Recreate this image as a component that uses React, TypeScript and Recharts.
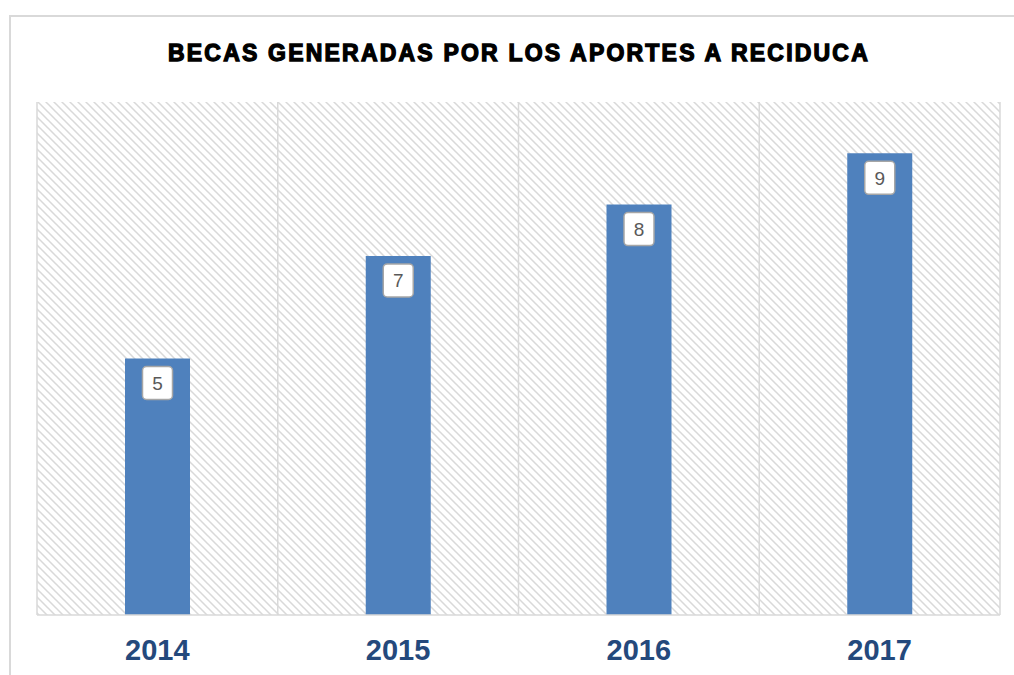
import React from "react";
import { BarChart, Bar, XAxis, YAxis, CartesianGrid, LabelList } from "recharts";

const years = ["2014", "2015", "2016", "2017"];
const becas = [5, 7, 8, 9];
const yTicks = [0, 2, 4, 6, 8, 10];
const title = "BECAS GENERADAS POR LOS APORTES A RECIDUCA";

const data = years.map((y, i) => ({ year: y, becas: becas[i] }));

const BoxLabel = (props: any) => {
  const { x, y, width, value } = props;
  const cx = x + width / 2;
  return (
    <g>
      <rect x={cx - 15} y={y + 8} width={30} height={33} rx={4} ry={4} fill="#ffffff" stroke="#A6A6A6" strokeWidth={1.5} />
      <text x={cx} y={y + 25} textAnchor="middle" dominantBaseline="central" fontFamily="Liberation Sans, Arial, sans-serif" fontSize={19} fill="#595959">
        {value}
      </text>
    </g>
  );
};

const YearTick = (props: any) => {
  const { x, y, payload } = props;
  return (
    <text x={x} y={y} dy={37} textAnchor="middle" fontFamily="Liberation Sans, Arial, sans-serif" fontWeight="bold" fontSize={29} fill="#24497C">
      {payload.value}
    </text>
  );
};

export default function App() {
  return (
    <div style={{ position: "absolute", left: 0, top: 0, width: 1014, height: 675, background: "#fff" }}>
      <div style={{ position: "absolute", left: 9, top: 15, width: 1010, height: 670, border: "2px solid #D9D9D9", boxSizing: "border-box" }} />
      <div
        style={{
          position: "absolute",
          left: 0,
          top: 39,
          width: 1038,
          textAlign: "center",
          fontFamily: "Liberation Sans, Arial, sans-serif",
          fontWeight: 900,
          fontSize: 23,
          letterSpacing: 2.2,
          color: "#000",
          WebkitTextStroke: "1.3px #000",
          lineHeight: "28px",
        }}
      >
        {title}
      </div>
      <div style={{ position: "absolute", left: 0, top: 0 }}>
        <BarChart width={1014} height={675} data={data} margin={{ top: 102, right: 14, left: 37, bottom: 0 }} barSize={65}>
          <defs>
            <pattern id="hatch" width="8" height="8" patternUnits="userSpaceOnUse">
              <rect width="8" height="8" fill="#ffffff" />
              <path d="M-1,-1 L9,9 M-1,7 L1,9 M7,-1 L9,1" stroke="#D9D9D9" strokeWidth={1.5} />
            </pattern>
          </defs>
          <CartesianGrid
            horizontal={false}
            fill="url(#hatch)"
            stroke="#D9D9D9"
            strokeWidth={1.5}
            verticalCoordinatesGenerator={({ offset }: any) =>
              [0, 1, 2, 3, 4].map((i) => offset.left + (i * offset.width) / 4)
            }
          />
          <XAxis dataKey="year" height={60} axisLine={{ stroke: "#D9D9D9", strokeWidth: 1.5 }} tickLine={false} tick={<YearTick />} interval={0} />
          <YAxis hide domain={[0, 10]} ticks={yTicks} width={0} />
          <Bar dataKey="becas" fill="#4F81BD" isAnimationActive={false}>
            <LabelList dataKey="becas" content={<BoxLabel />} />
          </Bar>
        </BarChart>
      </div>
    </div>
  );
}
